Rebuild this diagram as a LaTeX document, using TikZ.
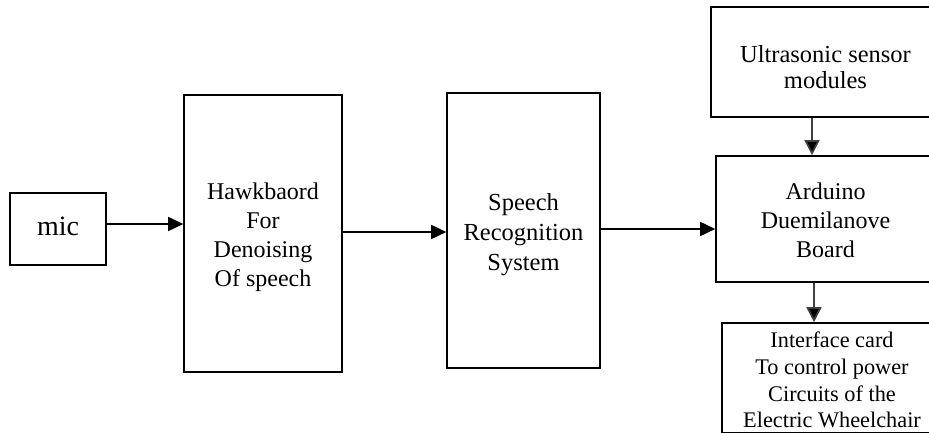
\documentclass[tikz,border=0pt]{standalone}
\usepackage{fontspec}
\setmainfont{Liberation Serif}
\usetikzlibrary{arrows.meta}
\begin{document}
\begin{tikzpicture}[x=1pt,y=1pt,
  blk/.style={draw=black,line width=1.6pt,rectangle,inner sep=0pt},
  txt/.style={align=center,inner sep=0pt,font=\fontsize{24}{29}\selectfont},
  conn/.style={line width=1.7pt,-{Triangle[length=15pt,width=14pt]}},
  vconn/.style={line width=1.7pt,draw=black!75,-{Triangle[length=15pt,width=15pt,fill=black]}}]
\useasboundingbox (0,0) rectangle (929,433);
\node[blk,minimum width=96pt,minimum height=72pt,
  label={[txt,font=\fontsize{28}{33}\selectfont,yshift=3pt]center:mic}] (mic) at (58,204) {};
\node[blk,minimum width=158pt,minimum height=277pt,
  label={[txt,yshift=-4pt]center:{Hawkbaord\\For\\Denoising\\Of speech}}] (hawk) at (263,199.5) {};
\node[blk,minimum width=153pt,minimum height=275pt,
  label={[txt,font=\fontsize{24.5}{30}\selectfont,yshift=-4pt]center:{Speech\\Recognition\\System}}] (speech) at (523.5,202.5) {};
\node[blk,minimum width=229pt,minimum height=110pt,
  label={[txt,font=\fontsize{24.5}{26}\selectfont,yshift=-5.5pt]center:{Ultrasonic sensor\\modules}}] (ultra) at (825.5,371) {};
\node[blk,minimum width=219pt,minimum height=126pt,
  label={[txt,yshift=-1pt]center:{Arduino\\Duemilanove\\Board}}] (ard) at (825.5,214) {};
\node[blk,minimum width=220pt,minimum height=110pt,
  label={[txt,font=\fontsize{22.3}{26.7}\selectfont,yshift=-2pt]center:{Interface card\\To control power\\Circuits of the\\Electric Wheelchair}}] (intf) at (832,55) {};
\draw[conn] ([yshift=5pt]mic.east) -- ([yshift=5pt]mic.east -| hawk.west);
\draw[conn] ([yshift=1.5pt]hawk.east) -- ([yshift=1.5pt]hawk.east -| speech.west);
\draw[conn] ([yshift=1.5pt]speech.east) -- ([yshift=1.5pt]speech.east -| ard.west);
\draw[vconn] ([xshift=-13.5pt]ultra.south) -- ([xshift=-13.5pt]ultra.south |- ard.north);
\draw[vconn] ([xshift=-11.5pt]ard.south) -- ([xshift=-11.5pt]ard.south |- intf.north);
\end{tikzpicture}
\end{document}
